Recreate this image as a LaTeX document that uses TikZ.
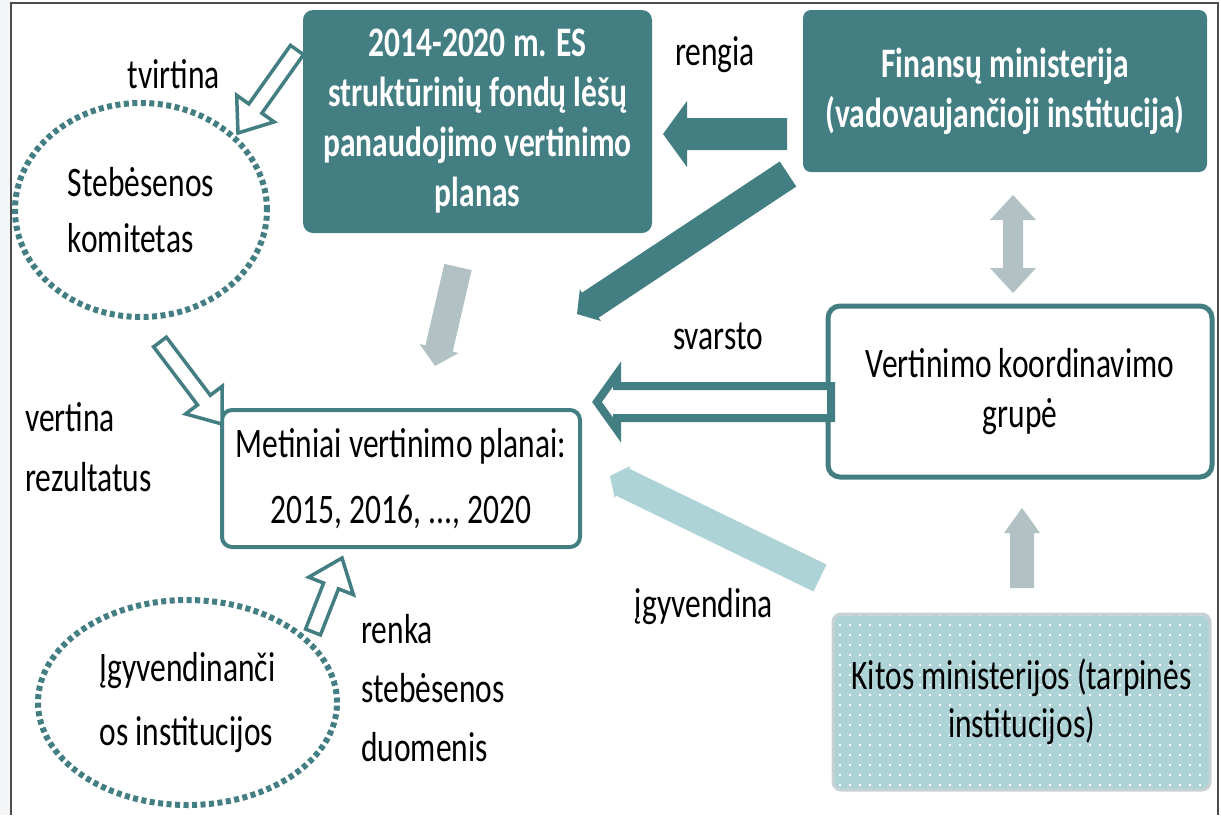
\documentclass[tikz,border=0pt]{standalone}
\usepackage{fontspec}
\setmainfont{Carlito}[FakeStretch=0.75]
\usetikzlibrary{calc,shapes.geometric,patterns}

\definecolor{tealdark}{HTML}{437E83}
\definecolor{teallight}{HTML}{AED3D7}
\definecolor{greyarrow}{HTML}{B1C1C4}
\definecolor{greyline}{HTML}{C8D1D3}
\definecolor{framegrey}{HTML}{4D4D4D}
\definecolor{sidegrey}{HTML}{F4F5F7}

% white dots for the Kitos box
\pgfdeclarepatternformonly{wdots}{\pgfpoint{-2pt}{-2pt}}{\pgfpoint{2pt}{2pt}}{\pgfpoint{10pt}{10pt}}%
  {\pgfpathrectangle{\pgfpoint{-1pt}{-1pt}}{\pgfpoint{2pt}{2pt}}\pgfusepath{fill}}

% block arrow: style, from, to, shaft half width, head half width, head length
\newcommand{\blockarrow}[6]{%
  \coordinate (hb) at ($(#3)!#6pt!(#2)$);
  \path[#1] ($(#2)!#4pt!90:(#3)$) -- ($(hb)!#4pt!90:(#3)$) -- ($(hb)!#5pt!90:(#3)$) -- (#3)
    -- ($(hb)!#5pt!-90:(#3)$) -- ($(hb)!#4pt!-90:(#3)$) -- ($(#2)!#4pt!-90:(#3)$) -- cycle;}
% same, with a head at both ends
\newcommand{\dblarrow}[6]{%
  \coordinate (ha) at ($(#2)!#6pt!(#3)$);
  \coordinate (hb) at ($(#3)!#6pt!(#2)$);
  \path[#1] (#2) -- ($(ha)!#5pt!90:(#3)$) -- ($(ha)!#4pt!90:(#3)$) -- ($(hb)!#4pt!90:(#3)$)
    -- ($(hb)!#5pt!90:(#3)$) -- (#3) -- ($(hb)!#5pt!-90:(#3)$) -- ($(hb)!#4pt!-90:(#3)$)
    -- ($(ha)!#4pt!-90:(#3)$) -- ($(ha)!#5pt!-90:(#3)$) -- cycle;}

\begin{document}
\begin{tikzpicture}[x=1pt,y=-1pt,
  box/.style={rectangle, rounded corners=10pt, inner sep=0pt, align=center},
  darkbox/.style={box, fill=tealdark, text=white, font=\bfseries\fontsize{42}{50}\selectfont},
  linebox/.style={box, draw=tealdark, line width=4pt, fill=white, font=\fontsize{42}{50}\selectfont},
  dotring/.style={ellipse, draw=tealdark, line width=6pt, dash pattern=on 5pt off 3.5pt, inner sep=0pt, align=left},
  lbl/.style={inner sep=0pt, align=left, font=\fontsize{42}{50}\selectfont},
  openarr/.style={draw=tealdark, fill=white, line width=3.5pt, line join=miter},
  fullarr/.style={fill=#1}]
  \useasboundingbox (0,0) rectangle (1221,815);
  \fill[sidegrey] (0,0) rectangle (11,815);
  \draw[framegrey, line width=2.5pt] (11,815) -- (11,3) -- (1218,3) -- (1218,815);

  % boxes
  \node[darkbox, minimum width=349pt, minimum height=223pt] (plan) at (477.5,121.5)
    {2014-2020 m. ES\\struktūrinių fondų lėšų\\panaudojimo vertinimo\\planas};
  \node[darkbox, rounded corners=8pt, minimum width=404pt, minimum height=162pt] (fin) at (1005,91)
    {Finansų ministerija\\(vadovaujančioji institucija)};
  \node[linebox, line width=5pt, rounded corners=12pt, minimum width=384pt, minimum height=171pt] (koord) at (1020,391.5)
    {Vertinimo koordinavimo\\grupė};
  \node[linebox, minimum width=358pt, minimum height=137pt, font=\fontsize{42}{66}\selectfont] (met) at (401,478.5)
    {Metiniai vertinimo planai:\\2015, 2016, ..., 2020};
  \node[box, rounded corners=8pt, preaction={fill=teallight}, pattern=wdots, pattern color=white,
    draw=greyline, line width=3pt, minimum width=377pt, minimum height=176pt,
    font=\fontsize{42}{48}\selectfont] (kitos) at (1021.5,702)
    {Kitos ministerijos (tarpinės\\institucijos)};
  \node[dotring, minimum width=252pt, minimum height=214pt, font=\fontsize{42}{56}\selectfont] (steb) at (141,210)
    {Stebėsenos\\komitetas};
  \node[dotring, minimum width=299pt, minimum height=205pt, font=\fontsize{42}{64}\selectfont] (igyv) at (187.5,702.5)
    {Įgyvendinanči\\os institucijos};

  % labels
  \node[lbl, anchor=base] (tvirt) at (174,88) {tvirtina};
  \node[lbl, anchor=base] (reng) at (715,65) {rengia};
  \node[lbl, anchor=base] (svar) at (718,349) {svarsto};
  \node[lbl, anchor=base] (igyvl) at (704,617) {įgyvendina};
  \node[lbl, anchor=west, font=\fontsize{42}{60}\selectfont] (vert) at (25,447) {vertina\\rezultatus};
  \node[lbl, anchor=west, font=\fontsize{42}{59}\selectfont] (renka) at (361,688) {renka\\stebėsenos\\duomenis};

  % arrow ends
  \coordinate (tvA) at (297,50);
  \coordinate (tvB) at (238,133);
  \coordinate (veA) at (160,342);
  \coordinate (veB) at (222,424);
  \coordinate (reA) at (313,632);
  \coordinate (reB) at (342,558);
  \coordinate (rgA) at (787,134);
  \coordinate (rgB) at (663,134);
  \coordinate (fiA) at (788,174);
  \coordinate (fiB) at (577,314);
  \coordinate (plA) at (458,267);
  \coordinate (plB) at (435,366);
  \coordinate (svA) at (831,402);
  \coordinate (svB) at (597,402);
  \coordinate (igA) at (820,578);
  \coordinate (igB) at (610,476);
  \coordinate (dbA) at (1013,195);
  \coordinate (dbB) at (1013,293);
  \coordinate (upA) at (1022,588);
  \coordinate (upB) at (1022,508);

  % arrows
  \blockarrow{openarr}{tvA}{tvB}{8}{23}{30}
  \blockarrow{openarr}{veA}{veB}{8}{23}{30}
  \blockarrow{openarr}{reA}{reB}{8}{24}{30}
  \blockarrow{fullarr=tealdark}{rgA}{rgB}{16}{33}{24}
  \blockarrow{fullarr=tealdark}{fiA}{fiB}{15}{19}{16}
  \blockarrow{fullarr=greyarrow}{plA}{plB}{14}{20}{18}
  \blockarrow{openarr, line width=8pt}{svA}{svB}{16}{28}{20}
  \blockarrow{fullarr=teallight}{igA}{igB}{15}{18}{14}
  \dblarrow{fullarr=greyarrow}{dbA}{dbB}{10}{23}{25}
  \blockarrow{fullarr=greyarrow}{upA}{upB}{12}{18}{25}
\end{tikzpicture}
\end{document}
